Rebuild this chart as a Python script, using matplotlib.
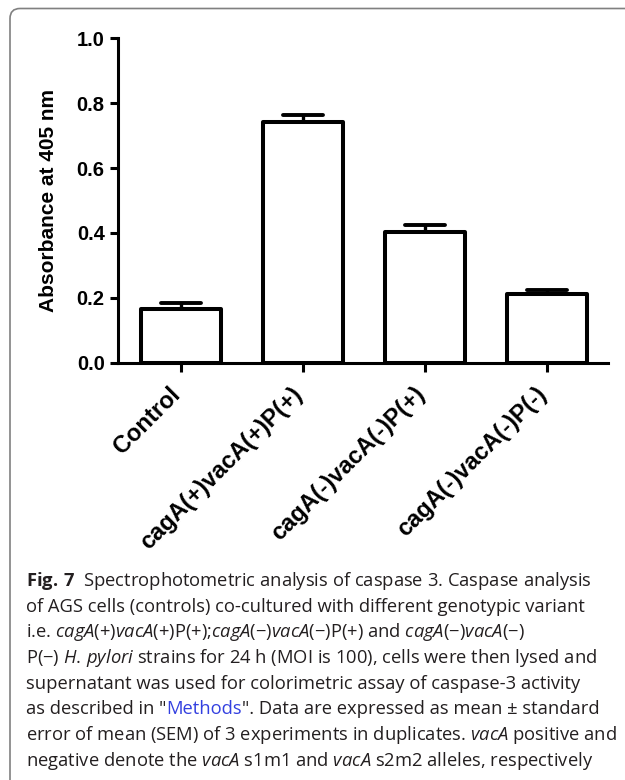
import matplotlib
matplotlib.use('Agg')
import matplotlib.pyplot as plt
from matplotlib.patches import FancyBboxPatch
from matplotlib.transforms import IdentityTransform, ScaledTranslation

# data
groups = ['Control', 'cagA(+)vacA(+)P(+)', 'cagA(-)vacA(-)P(+)', 'cagA(-)vacA(-)P(-)']
absorbance = [0.165, 0.743, 0.404, 0.213]
sem = [0.018, 0.022, 0.020, 0.012]
yticks = [0.0, 0.2, 0.4, 0.6, 0.8, 1.0]

caption = [
    r'$\mathbf{Fig.\,7}$  Spectrophotometric analysis of caspase 3. Caspase analysis',
    'of AGS cells (controls) co-cultured with different genotypic variant',
    r'i.e. $\mathit{cagA}$(+)$\mathit{vacA}$(+)P(+);$\mathit{cagA}$(−)$\mathit{vacA}$(−)P(+) and $\mathit{cagA}$(−)$\mathit{vacA}$(−)',
    r'P(−) $\mathit{H.\,pylori}$ strains for 24 h (MOI is 100), cells were then lysed and',
    'supernatant was used for colorimetric assay of caspase-3 activity',
    None,  # line with the blue link, drawn in pieces below
    r'error of mean (SEM) of 3 experiments in duplicates. $\mathit{vacA}$ positive and',
    r'negative denote the $\mathit{vacA}$ s1m1 and $\mathit{vacA}$ s2m2 alleles, respectively',
]
link_line = ['as described in "', 'Methods', '". Data are expressed as mean ± standard']

plt.rcParams['font.family'] = ['Liberation Sans', 'DejaVu Sans']
plt.rcParams['mathtext.fontset'] = 'custom'
plt.rcParams['mathtext.rm'] = 'Open Sans'
plt.rcParams['mathtext.it'] = 'Open Sans:italic'
plt.rcParams['mathtext.bf'] = 'Open Sans:bold'

fig = plt.figure(figsize=(6.25, 7.8), dpi=100)
ax = fig.add_axes([0.1893, 0.535, 0.7835, 0.4159])

x = list(range(len(groups)))
bars = ax.bar(x, absorbance, width=0.658, color='white', edgecolor='black',
              linewidth=2.9, zorder=2)
for b in bars:
    b.set_joinstyle('round')

tops = [a + e for a, e in zip(absorbance, sem)]
ax.vlines(x, absorbance, tops, color='black', lw=2.4, zorder=3)
ax.hlines(tops, [i - 0.16 for i in x], [i + 0.16 for i in x], color='black',
          lw=2.8, capstyle='round', zorder=3)

ax.set_xlim(-0.514, 3.5)
ax.set_ylim(0, 1.0)
for s in ['top', 'right']:
    ax.spines[s].set_visible(False)
for s in ['left', 'bottom']:
    ax.spines[s].set_linewidth(2.2)

ax.set_yticks(yticks)
ax.set_yticklabels([f'{t:.1f}' for t in yticks], fontweight='bold', fontsize=14.5)
ax.tick_params(axis='y', length=5.8, width=2.2, pad=4)
ax.set_xticks(x)
ax.set_xticklabels(groups, rotation=45, ha='right', fontweight='bold', fontsize=17)
ax.tick_params(axis='x', length=6.5, width=2.2, pad=8)
# nudge the slanted labels a little to the right, like the original
shift = ScaledTranslation(4 / 100, 0, fig.dpi_scale_trans)
for lab in ax.get_xticklabels():
    lab.set_transform(lab.get_transform() + shift)

ax.set_ylabel('Absorbance at 405 nm', fontsize=15, fontweight='bold')
ax.yaxis.set_label_coords(-0.124, 0.5)

# caption below the chart
cap_font = ['Open Sans', 'DejaVu Sans']
cap_size = 13.2
cap_color = '#231f20'
x0 = 26 / 625
for i, line in enumerate(caption):
    yb = 1 - (586 + i * 25.7) / 780
    if line is None:
        t = fig.text(x0, yb, link_line[0], family=cap_font, fontsize=cap_size,
                     color=cap_color, va='baseline')
        t = ax.annotate(link_line[1], xy=(1, 0), xycoords=t, va='bottom',
                        family=cap_font, fontsize=cap_size, color='#3340e0',
                        annotation_clip=False)
        ax.annotate(link_line[2], xy=(1, 0), xycoords=t, va='bottom',
                    family=cap_font, fontsize=cap_size, color=cap_color,
                    annotation_clip=False)
    else:
        fig.text(x0, yb, line, family=cap_font, fontsize=cap_size,
                 color=cap_color, va='baseline')

# rounded frame around the figure panel
frame = FancyBboxPatch((10, -40), 660, 811.5, boxstyle='round,pad=0,rounding_size=10',
                       transform=IdentityTransform(), fill=False, ec='#808080', lw=1.2)
fig.add_artist(frame)

fig.savefig('out.png', dpi=100)
